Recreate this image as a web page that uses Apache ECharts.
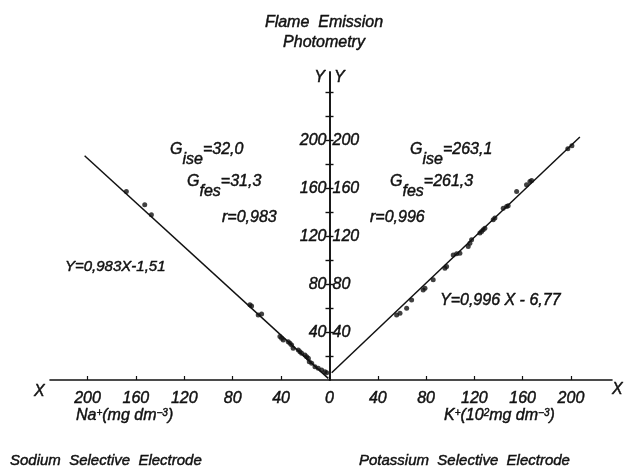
<!DOCTYPE html>
<html>
<head>
<meta charset="utf-8">
<title>ISE vs FES</title>
<script src="https://cdn.jsdelivr.net/npm/echarts@6/dist/echarts.min.js"></script>
<style>
    html, body { margin: 0; padding: 0; background: #fff; }
    #chart { width: 624px; height: 472px; }
</style>
</head>
<body>
<div id="chart"></div>
<script>
// sodium electrode vs flame emission (Na in mg dm-3, left half)
var naX = [167.9, 152.7, 147.2, 65.8, 64.4, 58.9, 56.1, 41.0, 39.6, 38.2, 34.1, 32.7, 31.3, 30.0,
    25.8, 24.4, 23.0, 20.3, 18.9, 17.5, 16.7, 14.7, 12.0, 9.3, 6.5, 3.7, 2.3];
var naY = [157.3, 146.2, 137.8, 62.7, 61.8, 54.3, 55.1, 36.2, 34.8, 33.4, 32.0, 30.7, 29.2, 26.5,
    25.1, 23.6, 22.3, 20.9, 19.5, 18.1, 15.3, 14.0, 11.1, 9.8, 8.4, 6.9, 6.1];

// potassium electrode vs flame emission (K in 10^2 mg dm-3, right half)
var kX = [55.6, 58.4, 63.9, 68.0, 77.6, 79.1, 85.9, 95.6, 97.0, 102.5, 105.3, 108.0, 114.9, 116.3,
    117.7, 124.6, 126.0, 127.3, 128.7, 135.6, 137.0, 143.9, 146.7, 148.0, 155.0, 163.2, 166.0,
    167.4, 197.4, 200.8];
var kY = [54.3, 55.7, 59.9, 66.8, 75.2, 76.6, 83.6, 93.3, 94.7, 104.4, 105.3, 105.8, 111.4, 114.2,
    117.0, 122.6, 123.9, 125.3, 126.7, 133.7, 135.1, 143.4, 144.8, 145.4, 157.3, 162.9, 165.7,
    166.5, 193.0, 195.5];

// regression line end points as drawn
var naLineX = [202.4, 1.0];
var naLineY = [187.1, 1.4];
var kLineX = [1.8, 207.4];
var kLineY = [6.1, 202.7];

// ticks and labels
var naTicks = [0, 40, 80, 120, 160, 200];
var kTicks = [40, 80, 120, 160, 200];
var yTicks = [20, 40, 60, 80, 100, 120, 140, 160, 180, 200, 220, 240];
var yLabels = [40, 80, 120, 160, 200];

var ink = '#111';
var font = 'Liberation Sans';
var weight = 0.45; // thin outline so the lettering looks as heavy as the print

function pairs(xs, ys) {
    var out = [];
    for (var i = 0; i < xs.length; i++) {
        out.push([xs[i], ys[i]]);
    }
    return out;
}

function txt(x, y, text, size, align) {
    return {
        type: 'text', x: x, y: y,
        style: {
            text: text, fill: ink, stroke: ink, lineWidth: weight,
            font: 'italic ' + size + 'px "' + font + '"',
            textAlign: align || 'left', textVerticalAlign: 'middle'
        }
    };
}

// rich text helper: n = normal, b = lowered (subscript), p = raised (superscript)
function richText(x, y, text, size, lh) {
    var st = {fontSize: size, fontStyle: 'italic', fontFamily: font, fill: ink, lineHeight: lh};
    return {
        type: 'text', x: x, y: y,
        style: {
            text: text, fill: ink, stroke: ink, lineWidth: weight,
            rich: {
                n: Object.assign({}, st, {verticalAlign: 'top'}),
                b: Object.assign({}, st, {verticalAlign: 'bottom'}),
                p: Object.assign({}, st, {verticalAlign: 'top', fontSize: 10})
            }
        }
    };
}

// G with subscript, e.g. G_ise=32,0
function gText(x, y, sub, rest) {
    return richText(x, y, '{n|G}{b|' + sub + '}{n|' + rest + '}', 16, 26);
}

var labelStyle = {color: ink, fontSize: 16, fontStyle: 'italic', fontFamily: font,
    textBorderColor: ink, textBorderWidth: weight};

function xAxis(idx, max, ticks, inverse) {
    return {
        type: 'value', gridIndex: idx, min: 0, max: max, inverse: inverse,
        axisLine: {onZero: false, lineStyle: {color: ink, width: 1.6}},
        axisTick: {show: true, inside: true, customValues: ticks, length: 4,
            lineStyle: {color: ink, width: 1.2}},
        axisLabel: Object.assign({customValues: ticks, margin: 11}, labelStyle),
        splitLine: {show: false}
    };
}

// y axis sits on the shared zero line, ticks and labels point into each half
function yAxis(idx, pos) {
    return {
        type: 'value', gridIndex: idx, min: 0, max: 257, position: pos,
        axisLine: {show: true, onZero: false, lineStyle: {color: ink, width: 1.6}},
        axisTick: {show: true, inside: true, customValues: yTicks, length: 4,
            lineStyle: {color: ink, width: 1.4}},
        axisLabel: Object.assign({inside: true, customValues: yLabels, margin: 3}, labelStyle),
        splitLine: {show: false}
    };
}

var chart = echarts.init(document.getElementById('chart'));
var option = {
    backgroundColor: '#fff',
    animation: false,
    grid: [
        {left: 50, right: 294.5, top: 72, bottom: 92, outerBoundsMode: 'none', containLabel: false},
        {left: 329.5, right: 12, top: 72, bottom: 92, outerBoundsMode: 'none', containLabel: false}
    ],
    xAxis: [xAxis(0, 231, naTicks, true), xAxis(1, 234, kTicks, false)],
    yAxis: [yAxis(0, 'right'), yAxis(1, 'left')],
    series: [
        {
            type: 'line', xAxisIndex: 0, yAxisIndex: 0, data: pairs(naLineX, naLineY),
            symbol: 'none', lineStyle: {color: ink, width: 1.5}
        },
        {
            type: 'line', xAxisIndex: 1, yAxisIndex: 1, data: pairs(kLineX, kLineY),
            symbol: 'none', lineStyle: {color: ink, width: 1.5}
        },
        {
            type: 'scatter', xAxisIndex: 0, yAxisIndex: 0, data: pairs(naX, naY),
            symbolSize: 5, itemStyle: {color: ink}
        },
        {
            type: 'scatter', xAxisIndex: 1, yAxisIndex: 1, data: pairs(kX, kY),
            symbolSize: 5, itemStyle: {color: ink}
        }
    ],
    graphic: [
        txt(324, 23, 'Flame  Emission', 16, 'center'),
        txt(324, 43, 'Photometry', 16, 'center'),
        txt(325, 78, 'Y', 16, 'right'),
        txt(334, 78, 'Y', 16, 'left'),
        txt(34, 392, 'X', 16, 'left'),
        txt(612, 390, 'X', 16, 'left'),
        gText(170, 142, 'ise', '=32,0'),
        gText(187, 174, 'fes', '=31,3'),
        txt(222, 218, 'r=0,983', 16, 'left'),
        txt(65, 267, 'Y=0,983X-1,51', 15, 'left'),
        gText(410, 142, 'ise', '=263,1'),
        gText(390, 174, 'fes', '=261,3'),
        txt(370, 218, 'r=0,996', 16, 'left'),
        txt(440, 301, 'Y=0,996 X - 6,77', 16, 'left'),
        richText(76, 408, '{n|Na}{p|+}{n|(mg dm}{p|\u22123}{n|)}', 16, 18),
        richText(444, 408, '{n|K}{p|+}{n|(10}{p|2}{n|mg dm}{p|\u22123}{n|)}', 16, 18),
        txt(10, 461, 'Sodium  Selective  Electrode', 15, 'left'),
        txt(359, 461, 'Potassium  Selective  Electrode', 15, 'left')
    ]
};
chart.setOption(option);
</script>
</body>
</html>
